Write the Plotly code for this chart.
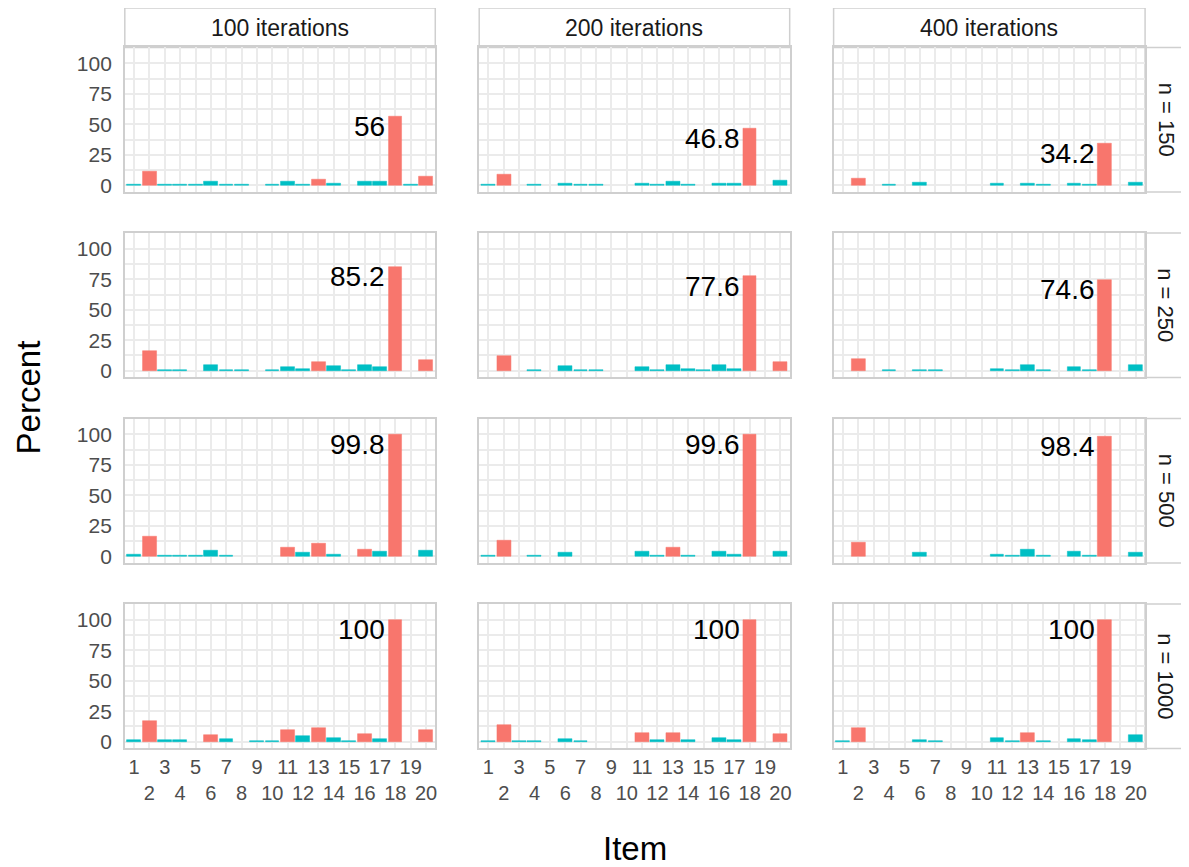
import plotly.graph_objects as go
from plotly.subplots import make_subplots

# ---------------- data ----------------
items = list(range(1, 21))
iterations = [100, 200, 400]
sample_sizes = [150, 250, 500, 1000]

# percent per item, one list per iteration setting (100, 200, 400)
pct_n150 = [
    [0.4, 11.0, 0.4, 0.4, 0.4, 3.4, 0.6, 0.4, 0, 0.4, 3.4, 0.6, 5.0, 1.4, 0, 3.4, 3.4, 56.0, 0.4, 7.0],
    [0.4, 8.6, 0, 0.4, 0, 1.4, 0.4, 0.4, 0, 0, 1.4, 0.4, 3.4, 0.4, 0, 1.4, 1.4, 46.8, 0, 4.2],
    [0, 5.8, 0, 0.4, 0, 2.6, 0, 0, 0, 0, 1.4, 0, 1.4, 0.6, 0, 1.4, 0.4, 34.2, 0, 2.6],
]
pct_n250 = [
    [0, 15.8, 0.8, 0.8, 0, 5.0, 0.8, 0.4, 0, 0.4, 2.8, 1.8, 7.0, 3.6, 0.4, 5.0, 2.8, 85.2, 0, 8.6],
    [0, 12.2, 0, 0.4, 0, 3.6, 1.0, 0.4, 0, 0, 2.8, 0.4, 4.4, 1.8, 0.4, 4.4, 1.8, 77.6, 0, 6.8],
    [0, 9.6, 0, 0.4, 0, 1.0, 0.4, 0, 0, 0, 1.8, 0.4, 4.4, 0.4, 0, 2.8, 1.0, 74.6, 0, 4.4],
]
pct_n500 = [
    [1.8, 15.8, 0.4, 0.8, 0.8, 4.6, 0.8, 0, 0, 0, 7.0, 2.8, 10.4, 1.8, 0, 5.4, 3.8, 99.8, 0, 4.6],
    [0.4, 13.0, 0, 0.8, 0, 2.8, 0, 0, 0, 0, 3.8, 0.8, 7.0, 0.8, 0, 3.8, 1.8, 99.6, 0, 3.8],
    [0, 11.2, 0, 0, 0, 2.8, 0, 0, 0, 0, 1.8, 0.8, 5.4, 0.8, 0, 3.8, 0.8, 98.4, 0, 2.8],
]
pct_n1000 = [
    [1.6, 17.2, 1.6, 1.6, 0, 5.2, 2.4, 0, 0.8, 0.8, 9.6, 4.4, 11.4, 3.2, 0.8, 6.2, 2.4, 100, 0, 9.6],
    [0.8, 13.8, 0.8, 0.8, 0, 2.4, 0.8, 0, 0, 0, 7.0, 1.6, 7.0, 1.6, 0, 3.2, 1.6, 100, 0, 6.0],
    [0.8, 11.4, 0, 0, 0, 1.6, 0.8, 0, 0, 0, 3.2, 0.8, 7.0, 0.8, 0, 2.4, 1.6, 100, 0, 5.2],
]
# items drawn in the highlight colour, per panel
red_n150 = [[2, 13, 18, 20], [2, 18], [2, 18]]
red_n250 = [[2, 13, 18, 20], [2, 18, 20], [2, 18]]
red_n500 = [[2, 11, 13, 16, 18], [2, 13, 18], [2, 18]]
red_n1000 = [[2, 6, 11, 13, 16, 18, 20], [2, 11, 13, 18, 20], [2, 13, 18]]

pct_rows = [pct_n150, pct_n250, pct_n500, pct_n1000]
red_rows = [red_n150, red_n250, red_n500, red_n1000]
label_item = 18

# ---------------- layout geometry (screen pixels) ----------------
W, H = 1189, 867
OFF_X = 8
OFF_Y, SCALE_Y = 7.9, 0.9934
Y_LO, Y_HI = -5.5, 113
PX_PER_UNIT = 1.218
col_px = [(125, 436), (480, 791), (835, 1147)]
zero_px = [185, 370.3, 555.7, 741]
row_px = [(z - Y_HI * PX_PER_UNIT, z - Y_LO * PX_PER_UNIT) for z in zero_px]
strip_top = (8, row_px[0][0])
strip_right_x = (1147, 1215)

RED = "#F8766D"
CYAN = "#00BFC4"
GRID = "#EBEBEB"
BORDER = "#CFCFCF"
FONT = "Liberation Sans"

def px_x(v):
    return (v - OFF_X) / W

def px_y(v):
    return 1 - ((v - OFF_Y) / SCALE_Y) / H

fig = make_subplots(rows=4, cols=3)

shapes = []
annotations = []

for r in range(4):
    for c in range(3):
        idx = r * 3 + c + 1
        vals = pct_rows[r][c]
        reds = red_rows[r][c]
        colors = [RED if it in reds else CYAN for it in items]
        line_w = [0.5 if v > 0 else 0 for v in vals]
        fig.add_trace(
            go.Bar(x=items, y=vals,
                   marker=dict(color=colors, line=dict(width=line_w, color=colors)),
                   width=0.9, showlegend=False, hoverinfo="x+y"),
            row=r + 1, col=c + 1,
        )
        xa = "xaxis" if idx == 1 else f"xaxis{idx}"
        ya = "yaxis" if idx == 1 else f"yaxis{idx}"
        x0, x1 = col_px[c]
        y0, y1 = row_px[r]
        fig.layout[xa].update(
            domain=[px_x(x0), px_x(x1)],
            range=[0.4, 20.6],
            tickmode="array",
            tickvals=items,
            ticktext=[str(i) if i % 2 == 1 else "<br>" + str(i) for i in items],
            tickangle=0,
            showticklabels=(r == 3),
            showgrid=True, gridcolor=GRID, gridwidth=1.8,
            zeroline=False,
            showline=True, mirror=True, linecolor=BORDER, linewidth=1.5,
            ticks="", ticklabelstandoff=0,
            tickfont=dict(size=20, color="#4D4D4D", family=FONT),
        )
        fig.layout[ya].update(
            domain=[px_y(y1), px_y(y0)],
            range=[Y_LO, Y_HI],
            tickmode="array",
            tickvals=[0, 25, 50, 75, 100],
            showticklabels=(c == 0),
            showgrid=True, gridcolor=GRID, gridwidth=1.8,
            minor=dict(tickvals=[12.5, 37.5, 62.5, 87.5], showgrid=True,
                       gridcolor=GRID, gridwidth=1.5, ticks=""),
            zeroline=False,
            showline=True, mirror=True, linecolor=BORDER, linewidth=1.5,
            ticks="", ticklabelstandoff=7,
            tickfont=dict(size=21, color="#4D4D4D", family=FONT),
        )
        # value label for the target item
        v = vals[label_item - 1]
        annotations.append(dict(
            x=label_item - 0.45, y=v, xref=f"x{idx}", yref=f"y{idx}",
            text=f"{v:g}", showarrow=False, xanchor="right", yanchor="middle",
            xshift=-1, yshift=-10,
            font=dict(size=28, color="black", family=FONT),
        ))

# top strips
for c, it in enumerate(iterations):
    x0, x1 = col_px[c]
    shapes.append(dict(type="rect", xref="paper", yref="paper",
                       x0=px_x(x0), x1=px_x(x1), y0=px_y(strip_top[1]), y1=px_y(strip_top[0]),
                       line=dict(color=BORDER, width=1.5), fillcolor="white", layer="below"))
    annotations.append(dict(x=px_x((x0 + x1) / 2), y=px_y(sum(strip_top) / 2),
                            xref="paper", yref="paper", text=f"{it} iterations",
                            showarrow=False, xanchor="center", yanchor="middle",
                            font=dict(size=23, color="#1A1A1A", family=FONT)))

# right strips
for r, n in enumerate(sample_sizes):
    y0, y1 = row_px[r]
    shapes.append(dict(type="rect", xref="paper", yref="paper",
                       x0=px_x(strip_right_x[0]), x1=px_x(strip_right_x[1]),
                       y0=px_y(y1), y1=px_y(y0),
                       line=dict(color=BORDER, width=1.5), fillcolor="white", layer="below"))
    annotations.append(dict(x=px_x(1168), y=px_y((y0 + y1) / 2),
                            xref="paper", yref="paper", text=f"n = {n}",
                            showarrow=False, xanchor="center", yanchor="middle", textangle=90,
                            font=dict(size=22, color="#1A1A1A", family=FONT)))

# axis titles
annotations.append(dict(x=px_x(28), y=px_y(397), xref="paper", yref="paper", text="Percent",
                        showarrow=False, textangle=-90, xanchor="center", yanchor="middle",
                        font=dict(size=33, color="black", family=FONT)))
annotations.append(dict(x=px_x(636), y=px_y(848), xref="paper", yref="paper", text="Item",
                        showarrow=False, xanchor="center", yanchor="middle",
                        font=dict(size=33, color="black", family=FONT)))

fig.update_layout(
    width=W, height=H,
    margin=dict(l=0, r=0, t=0, b=0),
    paper_bgcolor="white", plot_bgcolor="white",
    bargap=0, barmode="overlay",
    shapes=shapes, annotations=annotations,
    font=dict(family=FONT),
)

fig.write_html("out.html")
